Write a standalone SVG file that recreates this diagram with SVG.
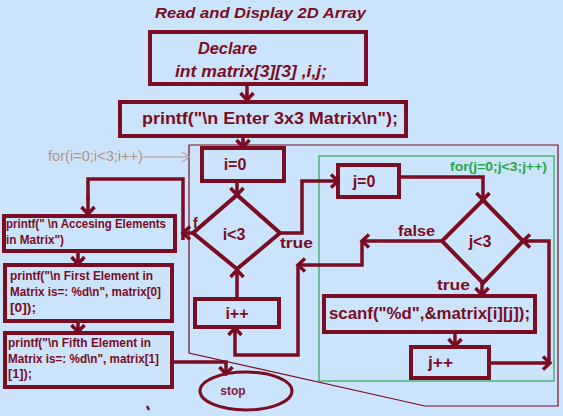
<svg xmlns="http://www.w3.org/2000/svg" width="563" height="416" viewBox="0 0 563 416">
<defs>
<marker id="ah" markerUnits="userSpaceOnUse" markerWidth="16" markerHeight="16" viewBox="0 0 16 16" refX="11" refY="8" orient="auto">
<path d="M4,1.5 L11,8 L4,14.5" fill="none" stroke="#7a0c24" stroke-width="3.5"/>
</marker>
<marker id="ahThin" markerUnits="userSpaceOnUse" markerWidth="12" markerHeight="12" viewBox="0 0 12 12" refX="10" refY="6" orient="auto">
<path d="M2,1 L10,6 L2,11" fill="none" stroke="#b09482" stroke-width="1"/>
</marker>
</defs>
<style>
.bx{fill:none;stroke:#7a0c24;stroke-width:4}
.ln{fill:none;stroke:#7a0c24;stroke-width:3.5;marker-end:url(#ah)}
.pl{fill:none;stroke:#7a0c24;stroke-width:3.5}
.t{font-family:"Liberation Sans",Arial,sans-serif;font-weight:bold;fill:#7a0c24}
.bi{font-style:italic}
.m{font-size:16px}
.s{font-size:12px}
</style>
<rect width="563" height="416" fill="#cce4fb"/>

<text class="t bi" x="155" y="18" font-size="15" textLength="211" lengthAdjust="spacingAndGlyphs">Read and Display 2D Array</text>

<g id="loopI">
<polygon points="189,145 558,145 558,406 425,406 189,353" fill="none" stroke="#7a0c24" stroke-width="1.2"/>
</g>
<g id="loopJ">
<rect x="319" y="156" width="235" height="225" fill="none" stroke="#2ea35a" stroke-width="1.2"/>
<text class="t" x="450" y="171" font-size="12.5" fill="#22a84a" style="fill:#22a84a" textLength="97" lengthAdjust="spacingAndGlyphs">for(j=0;j&lt;3;j++)</text>
</g>
<g id="forILabel">
<text x="48" y="161" font-family="Liberation Sans,Arial,sans-serif" font-size="14" fill="#b09482" textLength="95" lengthAdjust="spacingAndGlyphs">for(i=0;i&lt;3;i++)</text>
<line x1="143" y1="157" x2="190" y2="157" stroke="#b09482" stroke-width="1" marker-end="url(#ahThin)"/>
</g>

<g id="declare">
<rect class="bx" x="150" y="32" width="216" height="52"/>
<text class="t bi m" x="198" y="54" textLength="59" lengthAdjust="spacingAndGlyphs">Declare</text>
<text class="t bi m" x="175" y="77" textLength="152" lengthAdjust="spacingAndGlyphs">int matrix[3][3] ,i,j;</text>
</g>
<g id="enter">
<rect class="bx" x="120" y="102" width="286" height="34"/>
<text class="t m" x="142" y="124" textLength="256" lengthAdjust="spacingAndGlyphs">printf("\n Enter 3x3 Matrix\n");</text>
</g>
<g id="i0">
<rect class="bx" x="202" y="148" width="82" height="33"/>
<text class="t m" x="235" y="170" text-anchor="middle">i=0</text>
</g>
<g id="icond">
<polygon class="bx" points="237,195 280,233 237,269 193,233"/>
<text class="t m" x="234" y="240" text-anchor="middle">i&lt;3</text>
</g>
<g id="iinc">
<rect class="bx" x="195" y="299" width="84" height="28"/>
<text class="t m" x="237" y="319" text-anchor="middle">i++</text>
</g>
<g id="j0">
<rect class="bx" x="338" y="165" width="61" height="32"/>
<text class="t m" x="364" y="187" text-anchor="middle">j=0</text>
</g>
<g id="jcond">
<polygon class="bx" points="483,200 523,241 483,283 442,241"/>
<text class="t m" x="480" y="247" text-anchor="middle">j&lt;3</text>
</g>
<g id="scanf">
<rect class="bx" x="324" y="296" width="211" height="36"/>
<text class="t m" x="329" y="319" textLength="201" lengthAdjust="spacingAndGlyphs">scanf("%d",&amp;matrix[i][j]);</text>
</g>
<g id="jinc">
<rect class="bx" x="411" y="347" width="78" height="31"/>
<text class="t m" x="428" y="368" textLength="25" lengthAdjust="spacingAndGlyphs">j++</text>
</g>
<g id="access">
<rect class="bx" x="4" y="216" width="171" height="35"/>
<text class="t s" x="6" y="228" textLength="160" lengthAdjust="spacingAndGlyphs">printf(" \n Accesing Elements</text>
<text class="t s" x="6" y="244" textLength="58" lengthAdjust="spacingAndGlyphs">in Matrix")</text>
</g>
<g id="first">
<rect class="bx" x="5" y="265" width="167" height="56"/>
<text class="t s" x="10" y="280" textLength="143" lengthAdjust="spacingAndGlyphs">printf("\n First Element in</text>
<text class="t s" x="10" y="296" textLength="151" lengthAdjust="spacingAndGlyphs">Matrix is=: %d\n", matrix[0]</text>
<text class="t s" x="10" y="312" textLength="26" lengthAdjust="spacingAndGlyphs">[0]);</text>
</g>
<g id="fifth">
<rect class="bx" x="5" y="333" width="167" height="54"/>
<text class="t s" x="8" y="347" textLength="143" lengthAdjust="spacingAndGlyphs">printf("\n Fifth Element in</text>
<text class="t s" x="8" y="363" textLength="151" lengthAdjust="spacingAndGlyphs">Matrix is=: %d\n", matrix[1]</text>
<text class="t s" x="8" y="378" textLength="24" lengthAdjust="spacingAndGlyphs">[1]);</text>
</g>
<g id="stop">
<ellipse cx="246" cy="391" rx="46" ry="19" fill="none" stroke="#7a0c24" stroke-width="3"/>
<text class="t" x="233" y="395" font-size="12" text-anchor="middle" style="fill:#7a2040">stop</text>
</g>

<g id="connectors">
<line class="ln" x1="247" y1="84" x2="247" y2="100"/>
<line class="ln" x1="243" y1="136" x2="243" y2="147"/>
<line class="ln" x1="237" y1="181" x2="237" y2="195"/>
<line class="ln" x1="193" y1="233" x2="183" y2="233"/>
<polyline class="pl" points="183,240 183,179 88,179 88,200"/>
<line class="ln" x1="88" y1="195" x2="88" y2="214"/>
<line class="ln" x1="78" y1="251" x2="78" y2="264"/>
<line class="ln" x1="78" y1="321" x2="78" y2="332"/>
<polyline class="ln" points="172,362 226,362 226,374"/>
<line class="ln" x1="237" y1="299" x2="237" y2="270"/>
<polyline class="ln" points="280,233 302,233 302,181 338,181"/>
<polyline class="ln" points="399,177 483,177 483,200"/>
<line class="ln" x1="442" y1="241" x2="362" y2="241"/>
<polyline class="ln" points="362,241 362,265 298,265"/>
<polyline class="ln" points="298,265 298,355 235,355 235,328"/>
<line class="ln" x1="482" y1="283" x2="482" y2="295"/>
<line class="ln" x1="455" y1="332" x2="455" y2="346"/>
<line class="ln" x1="489" y1="363" x2="550" y2="363"/>
<polyline class="ln" points="549,363 549,241 523,241"/>
<line x1="147" y1="406" x2="149" y2="410" stroke="#7a0c24" stroke-width="2.5"/>
</g>

<g id="labels">
<text class="t" x="193" y="228" font-size="14">f</text>
<text class="t" x="280" y="248" font-size="15" textLength="33" lengthAdjust="spacingAndGlyphs">true</text>
<text class="t" x="398" y="236" font-size="15" textLength="37" lengthAdjust="spacingAndGlyphs">false</text>
<text class="t" x="437" y="290" font-size="15" textLength="33" lengthAdjust="spacingAndGlyphs">true</text>
</g>
</svg>
